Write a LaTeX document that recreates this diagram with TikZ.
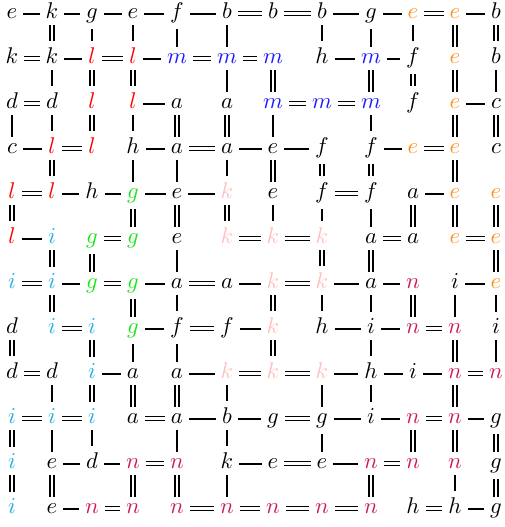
\documentclass[tikz,border=0pt]{standalone}
\usepackage{amsmath}
\definecolor{K}{rgb}{0,0,0}
\definecolor{R}{rgb}{1,0,0}
\definecolor{B}{rgb}{0.1,0.1,1}
\definecolor{O}{rgb}{1,0.57,0.12}
\definecolor{G}{rgb}{0.1,0.9,0.1}
\definecolor{P}{rgb}{1,0.75,0.75}
\definecolor{C}{rgb}{0.12,0.68,0.9}
\definecolor{N}{rgb}{0.8,0.1,0.36}
\newcommand\gridRow[2]{%
  \foreach \gLet/\gCol [count=\gC] in {#2} {%
    \pgfmathsetmacro\gX{{12,52,92,133,177,227,273,322,371,413,455,496}[\gC-1]}%
    \node[cell, text=\gCol] (n-#1-\gC) at (\gX, {18.5+45*(#1-1)}) {$\gLet$};
  }}
\newcommand\hEdges[2]{%
  \foreach \gC/\gTyp in {#2} {%
    \pgfmathtruncatemacro\gNext{\gC+1}%
    \expandafter\draw\expandafter[\gTyp] (n-#1-\gC.mid east) -- (n-#1-\gNext.mid west);
  }}
\newcommand\vEdges[2]{%
  \foreach \gC/\gTyp in {#2} {%
    \pgfmathtruncatemacro\gNext{#1+1}%
    \expandafter\draw\expandafter[\gTyp] (n-#1-\gC.south) -- (n-\gNext-\gC.north);
  }}
\begin{document}
\begin{tikzpicture}[x=0.44pt,y=-0.44pt,
  cell/.style={anchor=base, inner xsep=2.5pt, inner ysep=2.6pt},
  sgl/.style={line width=0.8pt},
  dbl/.style={double, line width=0.72pt, double distance=1.05pt}]
\useasboundingbox (0,0) rectangle (504,527);
\gridRow{1}{e/K,k/K,g/K,e/K,f/K,b/K,b/K,b/K,g/K,e/O,e/O,b/K}
\gridRow{2}{k/K,k/K,l/R,l/R,m/B,m/B,m/B,h/K,m/B,f/K,e/O,b/K}
\gridRow{3}{d/K,d/K,l/R,l/R,a/K,a/K,m/B,m/B,m/B,f/K,e/O,c/K}
\gridRow{4}{c/K,l/R,l/R,h/K,a/K,a/K,e/K,f/K,f/K,e/O,e/O,c/K}
\gridRow{5}{l/R,l/R,h/K,g/G,e/K,k/P,e/K,f/K,f/K,a/K,e/O,e/O}
\gridRow{6}{l/R,i/C,g/G,g/G,e/K,k/P,k/P,k/P,a/K,a/K,e/O,e/O}
\gridRow{7}{i/C,i/C,g/G,g/G,a/K,a/K,k/P,k/P,a/K,n/N,i/K,e/O}
\gridRow{8}{d/K,i/C,i/C,g/G,f/K,f/K,k/P,h/K,i/K,n/N,n/N,i/K}
\gridRow{9}{d/K,d/K,i/C,a/K,a/K,k/P,k/P,k/P,h/K,i/K,n/N,n/N}
\gridRow{10}{i/C,i/C,i/C,a/K,a/K,b/K,g/K,g/K,i/K,n/N,n/N,g/K}
\gridRow{11}{i/C,e/K,d/K,n/N,n/N,k/K,e/K,e/K,n/N,n/N,n/N,g/K}
\gridRow{12}{i/C,e/K,n/N,n/N,n/N,n/N,n/N,n/N,n/N,h/K,h/K,g/K}
% horizontal connectors
\hEdges{1}{1/sgl,2/sgl,3/sgl,4/sgl,5/sgl,6/dbl,7/dbl,8/sgl,9/sgl,10/dbl,11/sgl}
\hEdges{2}{1/dbl,2/sgl,3/dbl,4/sgl,5/dbl,6/dbl,8/sgl,9/sgl}
\hEdges{3}{1/dbl,4/sgl,7/dbl,8/dbl,11/sgl}
\hEdges{4}{1/sgl,2/dbl,4/sgl,5/dbl,6/sgl,7/sgl,9/sgl,10/dbl}
\hEdges{5}{1/dbl,2/sgl,3/sgl,4/sgl,5/sgl,8/dbl,10/sgl}
\hEdges{6}{1/sgl,3/dbl,6/dbl,7/dbl,9/dbl,11/dbl}
\hEdges{7}{1/dbl,2/sgl,3/dbl,4/sgl,5/dbl,6/sgl,7/dbl,8/sgl,9/sgl,11/sgl}
\hEdges{8}{2/dbl,4/sgl,5/dbl,6/sgl,8/sgl,9/sgl,10/dbl}
\hEdges{9}{1/dbl,3/sgl,5/sgl,6/dbl,7/dbl,8/sgl,9/sgl,10/sgl,11/dbl}
\hEdges{10}{1/dbl,2/dbl,4/dbl,5/sgl,6/sgl,7/dbl,8/sgl,9/sgl,10/dbl,11/sgl}
\hEdges{11}{2/sgl,3/sgl,4/dbl,6/sgl,7/dbl,8/sgl,9/dbl}
\hEdges{12}{2/sgl,3/dbl,5/dbl,6/dbl,7/dbl,8/dbl,10/dbl,11/sgl}
% vertical connectors
\vEdges{1}{2/dbl,3/sgl,4/sgl,5/sgl,6/sgl,8/sgl,9/sgl,10/sgl,11/dbl,12/dbl}
\vEdges{2}{2/sgl,3/dbl,4/dbl,6/sgl,7/dbl,9/dbl,10/dbl,11/dbl,12/sgl}
\vEdges{3}{1/sgl,2/sgl,3/dbl,4/sgl,5/dbl,6/dbl,7/sgl,9/sgl,11/dbl,12/dbl}
\vEdges{4}{2/dbl,4/sgl,5/sgl,6/sgl,7/dbl,8/dbl,9/dbl,11/dbl}
\vEdges{5}{1/dbl,4/dbl,5/dbl,6/dbl,7/sgl,8/sgl,9/sgl,10/dbl,11/dbl,12/dbl}
\vEdges{6}{2/dbl,3/dbl,5/sgl,8/dbl,9/dbl,12/dbl}
\vEdges{7}{2/dbl,4/dbl,5/sgl,7/dbl,8/sgl,9/sgl,10/dbl,11/sgl,12/sgl}
\vEdges{8}{1/dbl,3/dbl,4/sgl,5/sgl,7/dbl,9/sgl,11/dbl,12/sgl}
\vEdges{9}{2/sgl,3/dbl,4/dbl,5/dbl,6/sgl,8/sgl,9/sgl,11/dbl}
\vEdges{10}{1/dbl,2/sgl,3/sgl,5/sgl,6/sgl,8/sgl,10/dbl,11/dbl,12/dbl}
\vEdges{11}{1/dbl,2/dbl,4/dbl,5/dbl,6/sgl,9/dbl,11/sgl,12/dbl}
\end{tikzpicture}
\end{document}
